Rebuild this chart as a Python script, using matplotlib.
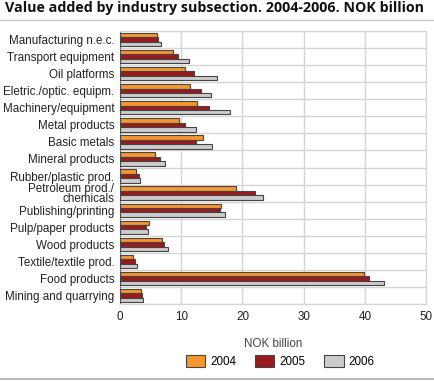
import numpy as np
import matplotlib.pyplot as plt
from matplotlib.lines import Line2D

plt.rcParams['font.family'] = ['Liberation Sans', 'DejaVu Sans']

categories = ['Manufacturing n.e.c.', 'Transport equipment', 'Oil platforms',
              'Eletric./optic. equipm.', 'Machinery/equipment', 'Metal products',
              'Basic metals', 'Mineral products', 'Rubber/plastic prod.',
              'Petroleum prod./\nchemicals', 'Publishing/printing',
              'Pulp/paper products', 'Wood products', 'Textile/textile prod.',
              'Food products', 'Mining and quarrying']
v2004 = [6.1, 8.7, 10.7, 11.5, 12.6, 9.6, 13.6, 5.8, 2.6, 18.9, 16.5, 4.8, 6.9, 2.2, 39.9, 3.4]
v2005 = [6.2, 9.5, 12.1, 13.2, 14.5, 10.6, 12.4, 6.6, 3.1, 22.0, 16.4, 4.3, 7.2, 2.4, 40.7, 3.6]
v2006 = [6.7, 11.2, 15.8, 14.9, 18.0, 12.5, 15.0, 7.4, 3.2, 23.3, 17.1, 4.6, 7.9, 2.7, 43.2, 3.8]
years = ['2004', '2005', '2006']
colors = ['#f7962e', '#9b1a1e', '#cccccc']

fs = 8.4

fig = plt.figure(figsize=(4.34, 3.81), dpi=100)
ax = fig.add_axes([0.2765, 0.2021, 0.705, 0.7165])

y = np.arange(len(categories))
h = 0.26
for i, (vals, c, lab) in enumerate(zip([v2004, v2005, v2006], colors, years)):
    ax.barh(y + (i - 1) * h, vals, height=h, color=c, edgecolor='#444444',
            linewidth=0.8, label=lab, zorder=3)

ax.set_ylim(len(categories) - 0.5, -0.5)
ax.set_xlim(0, 50)
ax.set_xticks([0, 10, 20, 30, 40, 50])
ax.set_yticks(y)
ax.set_yticklabels(categories, fontsize=fs, linespacing=0.85)
ax.tick_params(axis='both', length=0, labelsize=fs, colors='#222222')
ax.tick_params(axis='y', pad=4)
ax.tick_params(axis='x', pad=5)
for t in ax.get_yticklabels():
    t.set_horizontalalignment('right')
    t.set_multialignment('right')

ax.set_yticks(np.arange(len(categories) + 1) - 0.5, minor=True)
ax.tick_params(axis='y', which='minor', length=0)
ax.grid(axis='x', color='#d4d4d4', linewidth=1, zorder=0)
ax.grid(axis='y', which='minor', color='#d4d4d4', linewidth=1, zorder=0)
ax.grid(axis='y', which='major', visible=False)

for s in ['top', 'right', 'bottom']:
    ax.spines[s].set_color('#d4d4d4')
ax.spines['left'].set_color('#777777')

ax.set_xlabel('NOK billion', fontsize=fs, color='#444444', labelpad=11)

fig.text(0.012, 0.978, 'Value added by industry subsection. 2004-2006. NOK billion',
         fontsize=10.3, fontweight='bold', va='center', ha='left', color='#111111',
         family='Open Sans')
fig.add_artist(Line2D([0, 1], [0.948, 0.948], color='#cccccc', linewidth=1))
fig.add_artist(Line2D([0, 1], [0.006, 0.006], color='#bbbbbb', linewidth=1.5))

fig.legend(loc='center', bbox_to_anchor=(0.646, 0.05), ncol=3, frameon=False,
           fontsize=fs, handlelength=1.65, handleheight=1.2, columnspacing=1.6,
           handletextpad=0.45)

fig.savefig('out.png', dpi=100)
